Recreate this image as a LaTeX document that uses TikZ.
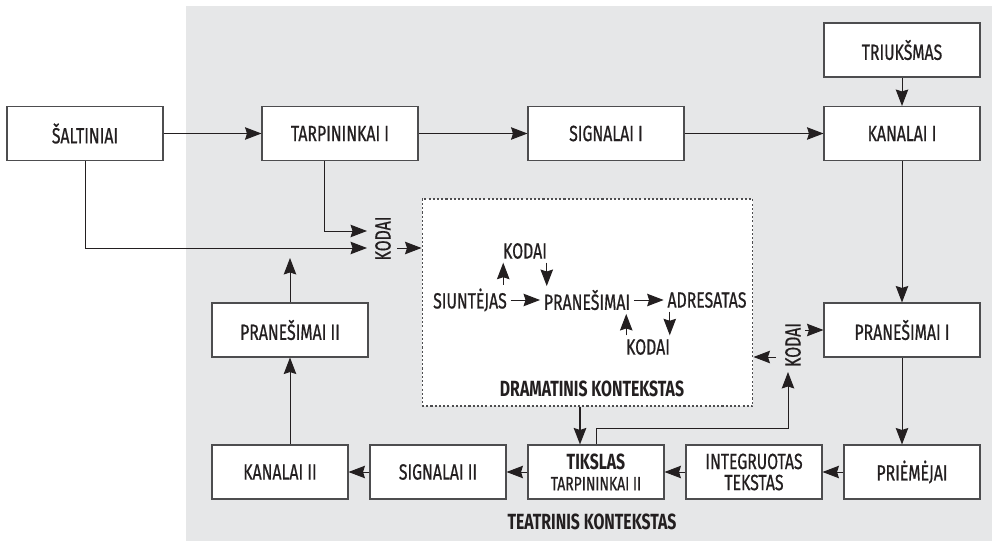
\documentclass[tikz,border=0pt]{standalone}
\usepackage{fontspec}
\setmainfont{Fira Sans}[FakeStretch=0.72, UprightFeatures={FakeBold=0.6}]
\usetikzlibrary{arrows.meta,positioning,calc}
\definecolor{bgc}{HTML}{E6E7E8}
\definecolor{ink}{HTML}{231F20}
\definecolor{frame}{HTML}{4D4D4F}

\begin{document}
\begin{tikzpicture}[
  x=0.02cm, y=-0.02cm,
  >={Stealth[length=3.3mm,width=2.5mm,inset=0.4mm]},
  every node/.style={text=ink, font=\fontsize{12.5}{12}\selectfont},
  blk/.style={draw=frame, line width=0.6pt, fill=white, align=center,
     inner sep=2pt, minimum width=3.12cm, minimum height=1.08cm},
  blks/.style={blk, minimum width=2.72cm},
  lbl/.style={inner sep=2pt},
  hdr/.style={inner sep=2pt, font=\bfseries\fontsize{12.5}{12}\selectfont},
  ctx/.style={draw=frame, line width=0.6pt, dash pattern=on 1.2pt off 1.2pt,
     fill=white, minimum width=6.62cm, minimum height=4.14cm},
  arr/.style={->, line width=0.55pt, draw=ink},
  fat/.style={->, line width=1.2pt, draw=ink},
]
\useasboundingbox (0,0) rectangle (992,541);
% --- theatre background ---
\fill[bgc] (186,6) rectangle (992,541);
% --- rows ---
\def\ya{50}  \def\yb{133.5}  \def\yc{330}  \def\yd{472}
% --- top chain ---
\node[blk] (salt)  at (85,\yb)  {ŠALTINIAI};
\node[blk] (tarp1) at (340,\yb) {TARPININKAI I};
\node[blk] (sig1)  at (606,\yb) {SIGNALAI I};
\node[blk] (kan1)  at (902,\yb) {KANALAI I};
\node[blk] (triuk) at (902,\ya) {TRIUKŠMAS};
\node[blk] (pran1) at (902,\yc) {PRANEŠIMAI I};
% --- bottom chain ---
\node[blks] (prie)  at (912,\yd) {PRIĖMĖJAI};
\node[blks] (integ) at (754,\yd) {INTEGRUOTAS\\TEKSTAS};
\node[blks] (tiks)  at (596,\yd) {{\bfseries TIKSLAS}\\{\fontsize{11}{11}\selectfont TARPININKAI II}};
\node[blks] (sig2)  at (438,\yd) {SIGNALAI II};
\node[blks] (kan2)  at (280,\yd) {KANALAI II};
\node[blk]  (pran2) at (290,\yc) {PRANEŠIMAI II};
% --- dramatic context ---
\node[ctx] (drama) at (587.5,302.5) {};
\node[lbl] (sender) at (470,300) {SIUNTĖJAS};
\node[lbl] (msg)    at (587,300) {PRANEŠIMAI};
\node[lbl] (addr)   at (707,300) {ADRESATAS};
\node[lbl] (codeT)  at (525,251) {KODAI};
\node[lbl] (codeB)  at (648,347) {KODAI};
\node[hdr] (dtitle) at (592,389) {DRAMATINIS KONTEKSTAS};
\node[hdr] (ttitle) at (592,522) {TEATRINIS KONTEKSTAS};
% --- codes beside the context ---
\node[lbl, rotate=90] (kodL) at (383,238.5) {KODAI};
\node[lbl, rotate=90] (kodR) at (793,345) {KODAI};
\coordinate (kin1) at (367,231);
\coordinate (kin2) at (367,248);
\coordinate (kout) at (397,248);
\coordinate (kr1) at (805,330);
\coordinate (kr2) at (776,357);
\coordinate (kr3) at (788,372);
\coordinate (kup) at (290,258);
% --- arrows ---
\draw[arr] (salt) -- (tarp1);
\draw[arr] (tarp1) -- (sig1);
\draw[arr] (sig1) -- (kan1);
\draw[arr] (triuk) -- (kan1);
\draw[arr] (kan1) -- (pran1);
\draw[arr] (pran1.south) -- (pran1.south |- prie.north);
\draw[arr] (prie) -- (integ);
\draw[arr] (integ) -- (tiks);
\draw[arr] (tiks) -- (sig2);
\draw[arr] (sig2) -- (kan2);
\draw[arr] (kan2.north -| pran2) -- (pran2.south);
\draw[arr] (pran2) -- (kup);
% into the context
\draw[arr] ([xshift=-0.32cm]tarp1.south) |- (kin1);
\draw[arr] (salt.south) |- (kin2);
\draw[arr] (kout) -- (kout -| drama.west);
% out of the context
\draw[arr] (kr1) -- (pran1.west);
\draw[arr] (kr2) -- (kr2 -| drama.east);
\draw[arr] (tiks.north) -- ++(0,-16) -| (kr3);
\draw[fat] ([xshift=-0.15cm]drama.south) -- ([xshift=-0.15cm]drama.south |- tiks.north);
% inside the context
\draw[arr] (sender) -- (msg);
\draw[arr] (msg) -- (addr);
\draw[arr] ([xshift=0.08cm]codeT.south west |- sender.north) -- ([xshift=0.08cm]codeT.south west);
\draw[arr] ([xshift=-0.08cm]codeT.south east) -- ([xshift=-0.08cm]codeT.south east |- msg.north);
\draw[arr] ([xshift=0.08cm]codeB.north west) -- ([xshift=0.08cm]codeB.north west |- msg.south);
\draw[arr] ([xshift=-0.08cm]codeB.north east |- addr.south) -- ([xshift=-0.08cm]codeB.north east);
\end{tikzpicture}
\end{document}
